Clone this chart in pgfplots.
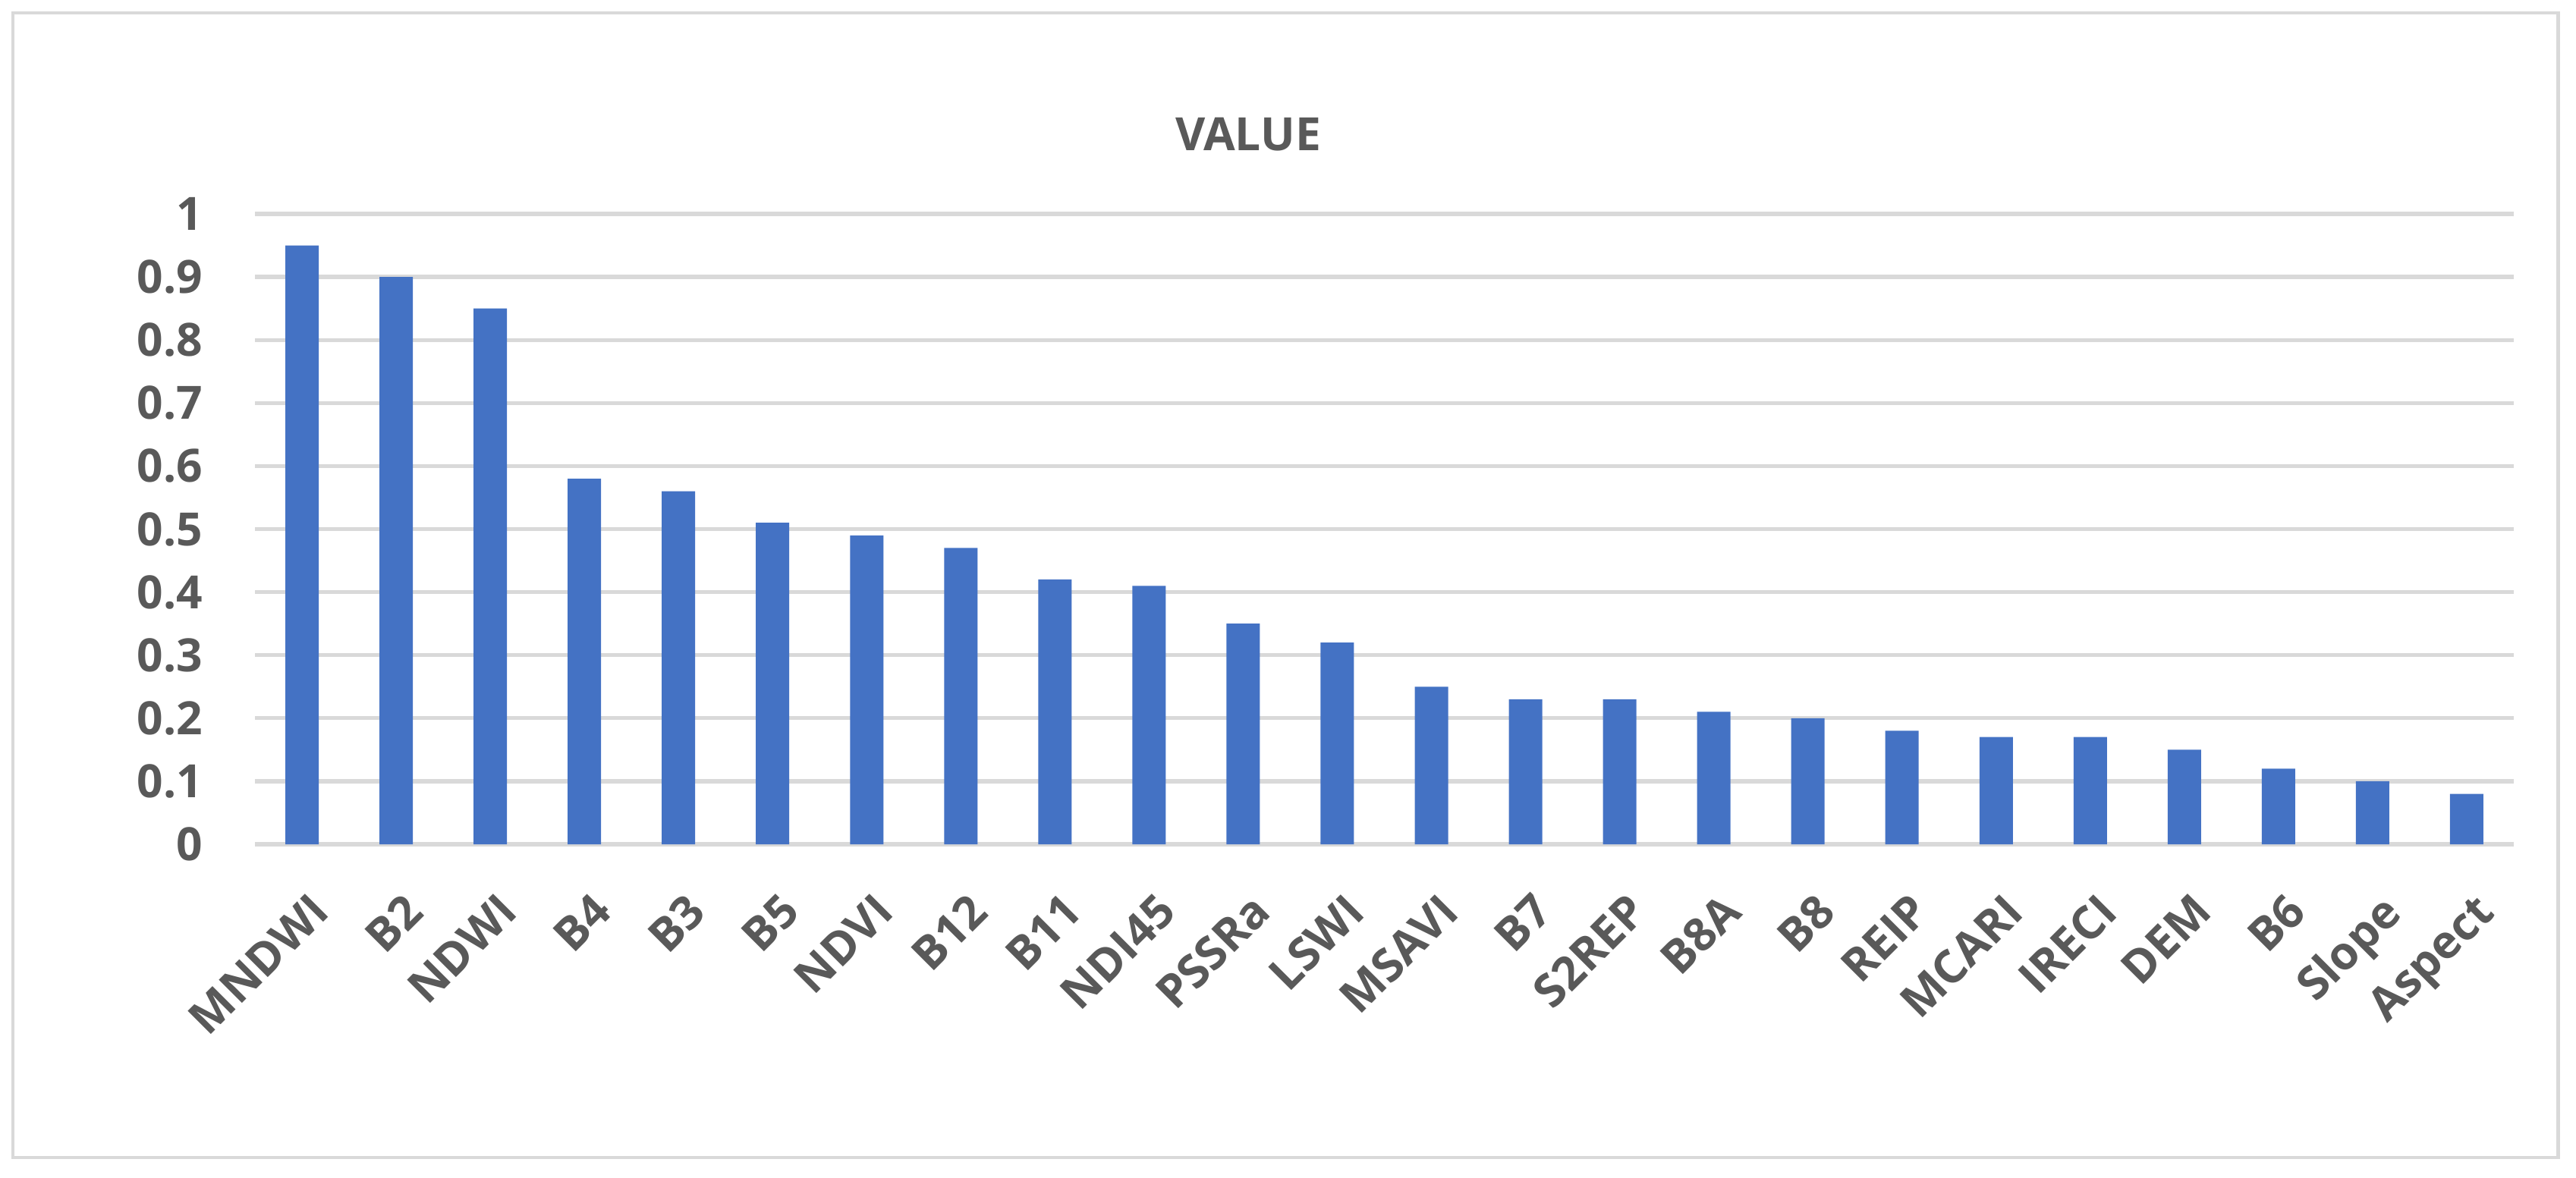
\documentclass[border=0pt]{standalone}
\usepackage{pgfplots}
\pgfplotsset{compat=1.18}
\usepackage{fontspec}
\setmainfont{Open Sans}
\definecolor{barblue}{RGB}{68,114,196}
\definecolor{gridgray}{RGB}{217,217,217}
\definecolor{textgray}{RGB}{89,89,89}

\begin{document}
\begin{tikzpicture}
\begin{axis}[
    scale only axis,
    width=14.885cm, height=4.155cm,
    ybar, bar width=0.22cm,
    xmin=-0.5, xmax=23.5,
    ymin=0, ymax=1,
    ytick={0,0.1,...,1},
    xtick=data,
    xticklabels={MNDWI,B2,NDWI,B4,B3,B5,NDVI,B12,B11,NDI45,PSSRa,LSWI,MSAVI,B7,S2REP,B8A,B8,REIP,MCARI,IRECI,DEM,B6,Slope,Aspect},
    xticklabel style={xshift=0.04cm, yshift=-0.3cm, rotate=45, anchor=north east, inner sep=0pt},
    yticklabel style={xshift=-0.22cm, /pgf/number format/fixed, /pgf/number format/precision=1},
    /pgf/number format/assume math mode=true,
    ticklabel style={font=\fontsize{8.6}{10}\selectfont\bfseries, text=textgray},
    major tick length=0pt,
    axis line style={draw=none},
    ymajorgrids, grid style={gridgray, line width=0.75pt},
    clip=false,
]
\addplot[fill=barblue, draw=none] coordinates {
    (0,0.95)(1,0.90)(2,0.85)(3,0.58)(4,0.56)(5,0.51)(6,0.49)(7,0.47)
    (8,0.42)(9,0.41)(10,0.35)(11,0.32)(12,0.25)(13,0.23)(14,0.23)(15,0.21)
    (16,0.20)(17,0.18)(18,0.17)(19,0.17)(20,0.15)(21,0.12)(22,0.10)(23,0.08)
};
\end{axis}
% frame and page extent
\path (-1.68,-2.195) rectangle (15.295,5.565);
\draw[gridgray, line width=0.7pt] (-1.595,-2.065) rectangle (15.175,5.48);
\node[font=\fontsize{8.6}{10}\selectfont\bfseries, text=textgray] at (6.545,4.68) {VALUE};
\end{tikzpicture}
\end{document}
